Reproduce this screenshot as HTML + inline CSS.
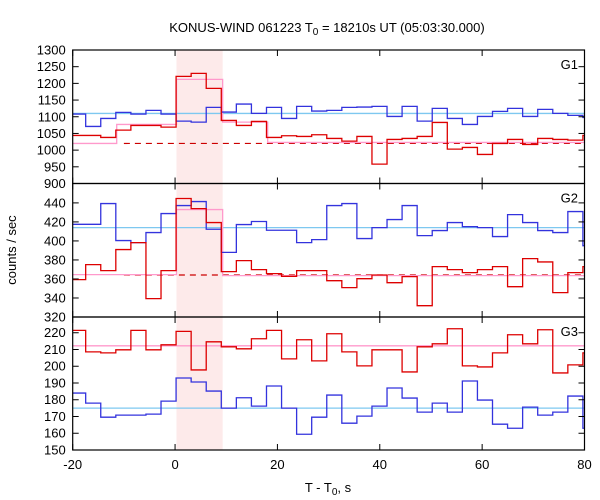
<!DOCTYPE html>
<html><head><meta charset="utf-8"><style>
html,body{margin:0;padding:0;background:#fff;}
svg{display:block;font-family:"Liberation Sans",sans-serif;}
</style></head><body>
<svg id="chart" width="600" height="500" viewBox="0 0 600 500" xmlns="http://www.w3.org/2000/svg"></svg>
<script>
const binStart = 0.2, binWidth = 2.944, firstBin = -7;
const xTicks = [-20, 0, 20, 40, 60, 80];
const g1Ticks = [1300,1250,1200,1150,1100,1050,1000,950,900];
const g2Ticks = [440,420,400,380,360,340,320];
const g3Ticks = [220,210,200,190,180,170,160,150];
const g1Blue = [1108,1071,1095,1113,1108,1119,1108,1087,1084,1128,1114,1138,1110,1128,1095,1131,1117,1119,1128,1129,1131,1101,1131,1087,1125,1095,1077,1101,1116,1125,1101,1122,1110,1104,1098];
const g1Red = [1044,1044,1038,1060,1074,1074,1069,1221,1230,1185,1089,1074,1086,1038,1043,1041,1046,1035,1027,1041,958,1032,1035,1041,1083,1003,1008,987,1020,1032,1017,1035,1032,1030,1044];
const g2Blue = [417.5,417.5,439.3,400.4,398.2,408.8,428.8,437.2,441.4,412.3,388,417.2,420.4,411.2,411.2,398.2,401.4,437.2,439.3,402.5,414,422.5,437.2,405.6,410.9,419.3,415,414,404.6,427.7,419.3,410.9,408.8,430.9,395];
const g2Red = [359.3,375.1,368.8,390.9,398.2,339.3,368.8,444.6,434,419.3,367.7,379.3,369.8,365.6,362.8,368.8,368.8,358.2,350.9,360.3,364.2,356.1,362.5,331.9,373,369.8,366.7,369.8,373,351.9,381.4,377.9,345.6,366.7,373];
const g3Blue = [184,178,169.6,170.8,170.8,171.4,179.2,193,190.6,185.2,175,181.2,176.2,188.2,175,159.4,169.6,182.8,166,170.2,176.2,187,181,172.6,178,172.6,191.2,179.8,165.4,163,175.6,170.8,172.6,182.2,163];
const g3Red = [221.4,208.6,208,209.8,221.4,209.8,212.8,220.8,197.8,214.6,211.6,210.4,216.4,221.4,204.4,215.8,203.2,219.4,208.6,200.2,209.8,209.8,196.6,211.6,213.4,222.4,200.2,199.6,208,218.8,213.4,221.8,196,200.8,208];
const g1BgTimes = [-20,-11.4,0.28,9.3,18.1,80];
const g1BgVals = [1020,1077,1212,1084,1023];
const g2BgTimes = [-20,0.28,9.3,80];
const g2BgVals = [364.6,433,363.5];
const g3BgTimes = [-20,80];
const g3BgVals = [212.2];
const fitLevels = [1020,364.2,null];
const meanLevels = [1110,414,175];
const shadeRange = [0.28, 9.3];

const svg = document.getElementById('chart');
const NS = 'http://www.w3.org/2000/svg';
const L = 72.7, R = 584.5;
const xs = t => L + (t - xTicks[0]) / (xTicks[xTicks.length-1] - xTicks[0]) * (R - L);
const panels = [
  {name:'g1', top:50, bot:183.5, vTop:1300, vBot:900, ticks:g1Ticks, blue:g1Blue, red:g1Red, bgT:g1BgTimes, bgV:g1BgVals, label:'G1'},
  {name:'g2', top:183.5, bot:317, vTop:460.4, vBot:320, ticks:g2Ticks, blue:g2Blue, red:g2Red, bgT:g2BgTimes, bgV:g2BgVals, label:'G2'},
  {name:'g3', top:317, bot:450, vTop:229.4, vBot:150, ticks:g3Ticks, blue:g3Blue, red:g3Red, bgT:g3BgTimes, bgV:g3BgVals, label:'G3'}
];
function mk(tag, attrs, parent){ const e=document.createElementNS(NS,tag); for(const k in attrs) e.setAttribute(k,attrs[k]); (parent||svg).appendChild(e); return e; }

const sh = mk('rect',{x:xs(shadeRange[0]),y:50,width:xs(shadeRange[1])-xs(shadeRange[0]),height:400,fill:'#fdeaea'});



function stepPath(vals, ys){
  let d='';
  vals.forEach((v,i)=>{
    let t0 = binStart + (firstBin+i)*binWidth, t1 = t0+binWidth;
    t0 = Math.max(t0, xTicks[0]); t1 = Math.min(t1, xTicks[xTicks.length-1]);
    const y = ys(v);
    d += (i===0 ? 'M' : 'L') + xs(t0).toFixed(2)+','+y.toFixed(2)+' L'+xs(t1).toFixed(2)+','+y.toFixed(2)+' ';
  });
  return d;
}
panels.forEach((p,pi)=>{
  const ys = v => p.top + (p.vTop - v)/(p.vTop - p.vBot)*(p.bot - p.top);
  const g = mk('g',{});
  
  
  const ml = mk('line',{x1:L,x2:R,y1:ys(meanLevels[pi]),y2:ys(meanLevels[pi]),stroke:'#7ec8f0','stroke-width':1.3},g);
  
  
  if(fitLevels[pi]!==null){
    const fl = mk('line',{x1:xs(-10),x2:R,y1:ys(fitLevels[pi]),y2:ys(fitLevels[pi]),stroke:'#cc0000','stroke-width':1.2,'stroke-dasharray':'6,5'},g);
    
    
  }
  let d='';
  p.bgV.forEach((v,i)=>{ d += (i===0?'M':'L')+xs(p.bgT[i])+','+ys(v)+' L'+xs(p.bgT[i+1])+','+ys(v)+' '; });
  const bg = mk('path',{d:d,fill:'none',stroke:'#ff99cc','stroke-width':1.3},g);
  
  
  const bl = mk('path',{d:stepPath(p.blue,ys),fill:'none',stroke:'#3333dd','stroke-width':1.3},g);
  
  
  const rd = mk('path',{d:stepPath(p.red,ys),fill:'none',stroke:'#dd0000','stroke-width':1.3},g);
  
  
  const fr = mk('rect',{x:L,y:p.top,width:R-L,height:p.bot-p.top,fill:'none',stroke:'#000','stroke-width':1.2},g);
  
  
  p.ticks.forEach(v=>{
    const y=ys(v);
    mk('line',{x1:L,x2:L+6,y1:y,y2:y,stroke:'#000','stroke-width':1},g);
    mk('line',{x1:R-6,x2:R,y1:y,y2:y,stroke:'#000','stroke-width':1},g);
    const tx = mk('text',{x:L-7,y:y+4.5,'text-anchor':'end','font-size':13,fill:'#000'},g);
    tx.textContent=v;
    
    
  });
  xTicks.forEach(t=>{
    const x=xs(t);
    mk('line',{x1:x,x2:x,y1:p.top,y2:p.top+6,stroke:'#000','stroke-width':1},g);
    mk('line',{x1:x,x2:x,y1:p.bot-6,y2:p.bot,stroke:'#000','stroke-width':1},g);
  });
  const lb = mk('text',{x:578,y:p.top+19,'text-anchor':'end','font-size':13,fill:'#000'},g);
  lb.textContent=p.label;
  
  
});
xTicks.forEach(t=>{
  const tx = mk('text',{x:xs(t),y:469,'text-anchor':'middle','font-size':13,fill:'#000'});
  tx.textContent=t;
  
  
});
</script>
<svg style="position:absolute;left:0;top:0" width="600" height="500">
<text x="327" y="32" text-anchor="middle" font-size="13" font-family="Liberation Sans, sans-serif">KONUS-WIND 061223 T<tspan font-size="10" dy="3">0</tspan><tspan dy="-3"> = 18210s UT (05:03:30.000)</tspan></text>
<text transform="translate(16,250) rotate(-90)" text-anchor="middle" font-size="13" font-family="Liberation Sans, sans-serif">counts / sec</text>
<text x="328" y="492" text-anchor="middle" font-size="13" font-family="Liberation Sans, sans-serif">T - T<tspan font-size="10" dy="3">0</tspan><tspan dy="-3">, s</tspan></text>
</svg>
</body></html>
